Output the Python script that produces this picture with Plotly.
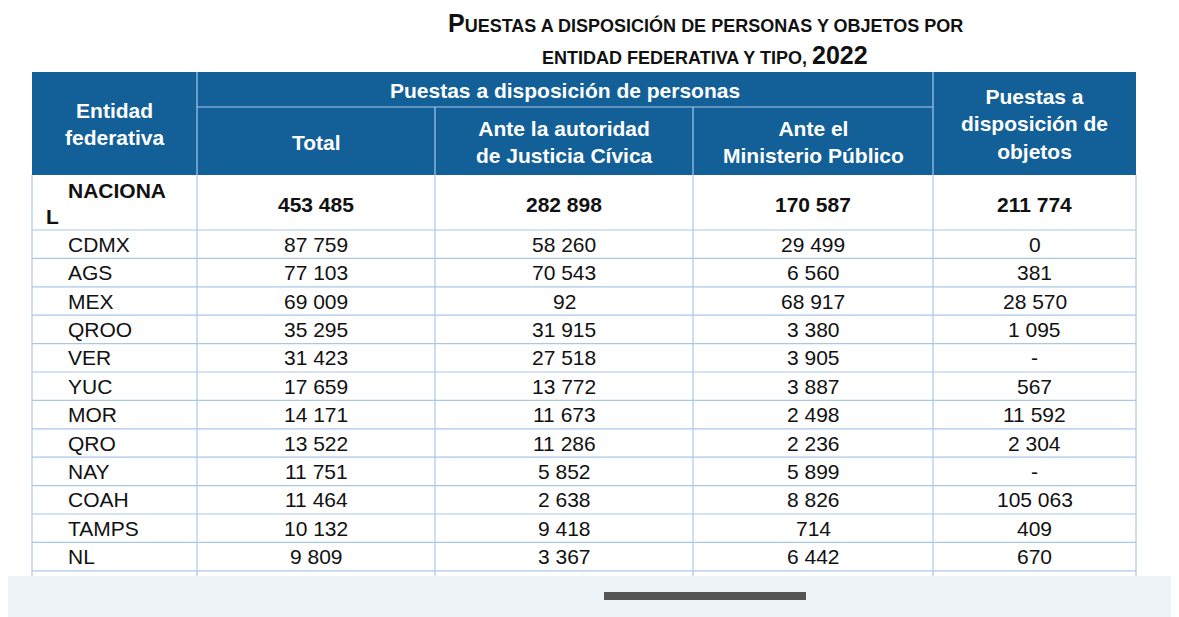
import plotly.graph_objects as go

entities = ["CDMX","AGS","MEX","QROO","VER","YUC","MOR","QRO","NAY","COAH","TAMPS","NL"]
total = [87759,77103,69009,35295,31423,17659,14171,13522,11751,11464,10132,9809]
civica = [58260,70543,92,31915,27518,13772,11673,11286,5852,2638,9418,3367]
ministerio = [29499,6560,68917,3380,3905,3887,2498,2236,5899,8826,714,6442]
objetos = [0,381,28570,1095,None,567,11592,2304,None,105063,409,670]
nacional = [453485,282898,170587,211774]

W, H = 1179, 617
OFF = 8  # page body margin
BLUE = "#135f98"
LINE = "#a9c8e8"
FONT = "Liberation Sans, Arial, sans-serif"
cols = [32,197,435,693,933,1136]
centers = [(cols[i]+cols[i+1])/2 for i in range(5)]

def fmt(v):
    if v is None:
        return "-"
    return f"{v:,}".replace(",", " ")

shapes, ann = [], []
def line(x0,y0,x1,y1,c=LINE,w=1.2):
    shapes.append(dict(type="line",x0=x0,y0=y0,x1=x1,y1=y1,line=dict(color=c,width=w),layer="above"))
def text(x,y,t,size=21,bold=False,color="#111",xanchor="center"):
    if bold: t = f"<b>{t}</b>"
    ann.append(dict(x=x,y=y,text=t,showarrow=False,xanchor=xanchor,yanchor="middle",
                    font=dict(family=FONT,size=size,color=color)))

# bottom strip
shapes.append(dict(type="rect",x0=-10,x1=W+20,y0=576,y1=H+20,fillcolor="#eef3f7",line=dict(width=0),layer="above"))
shapes.append(dict(type="line",x0=604,x1=806,y0=596,y1=596,line=dict(color="#555",width=8),layer="above"))

# header
shapes.append(dict(type="rect",x0=cols[0],x1=cols[-1],y0=72,y1=175,fillcolor=BLUE,line=dict(width=0),layer="below"))
line(cols[1],107,cols[4],107)
for x in [cols[1],cols[4]]:
    line(x,72,x,175)
for x in [cols[2],cols[3]]:
    line(x,107,x,175)
W_ = "white"
text(centers[0],124,"Entidad<br>federativa",bold=True,color=W_)
text((cols[1]+cols[4])/2,90,"Puestas a disposición de personas",bold=True,color=W_)
text(centers[1],142,"Total",bold=True,color=W_)
text(centers[2],142,"Ante la autoridad<br>de Justicia Cívica",bold=True,color=W_)
text(centers[3],142,"Ante el<br>Ministerio Público",bold=True,color=W_)
text(centers[4],124,"Puestas a<br>disposición de<br>objetos",bold=True,color=W_)

# title
def sc(s, big=25, small=18):
    out = []
    for w in s.split(" "):
        if w[0].isupper():
            out.append(f"<span style='font-size:{big}px'>{w[0]}</span><span style='font-size:{small}px'>{w[1:].upper()}</span>")
        else:
            out.append(f"<span style='font-size:{small}px'>{w.upper()}</span>")
    return " ".join(out)
ann.append(dict(x=705,y=23,text="<b>"+sc("Puestas a disposición de personas y objetos por")+"</b>",showarrow=False,
                xanchor="center",yanchor="middle",font=dict(family=FONT,size=18,color="#111")))
ann.append(dict(x=705,y=55,text="<b><span style='font-size:18px'>ENTIDAD FEDERATIVA Y TIPO,</span> <span style='font-size:25px'>2022</span></b>",
                showarrow=False,xanchor="center",yanchor="middle",font=dict(family=FONT,size=18,color="#111")))

# body grid
step = 28.4
top = 230
bounds = [top+step*(i+1) for i in range(len(entities))]
for y in [top]+bounds:
    line(cols[0],y,cols[-1],y)
for x in cols:
    line(x,175,x,576)

# nacional row
text(66,190,"NACIONA",bold=True,xanchor="left")
text(44,216,"L",bold=True,xanchor="left")
for j,v in enumerate(nacional):
    text(centers[j+1],204,fmt(v),bold=True)

for i,e in enumerate(entities):
    y = top+step*(i+0.5)
    text(66,y,e,xanchor="left")
    for j,arr in enumerate([total,civica,ministerio,objetos]):
        text(centers[j+1],y,fmt(arr[i]))

fig = go.Figure()
fig.update_layout(width=W,height=H,margin=dict(l=0,r=0,t=0,b=0),paper_bgcolor="white",plot_bgcolor="white",
                  xaxis=dict(range=[OFF,W+OFF],visible=False,fixedrange=True),
                  yaxis=dict(range=[H+OFF,OFF],visible=False,fixedrange=True),
                  shapes=shapes,annotations=ann,showlegend=False)
fig.write_html("out.html",config={"displayModeBar":False})
